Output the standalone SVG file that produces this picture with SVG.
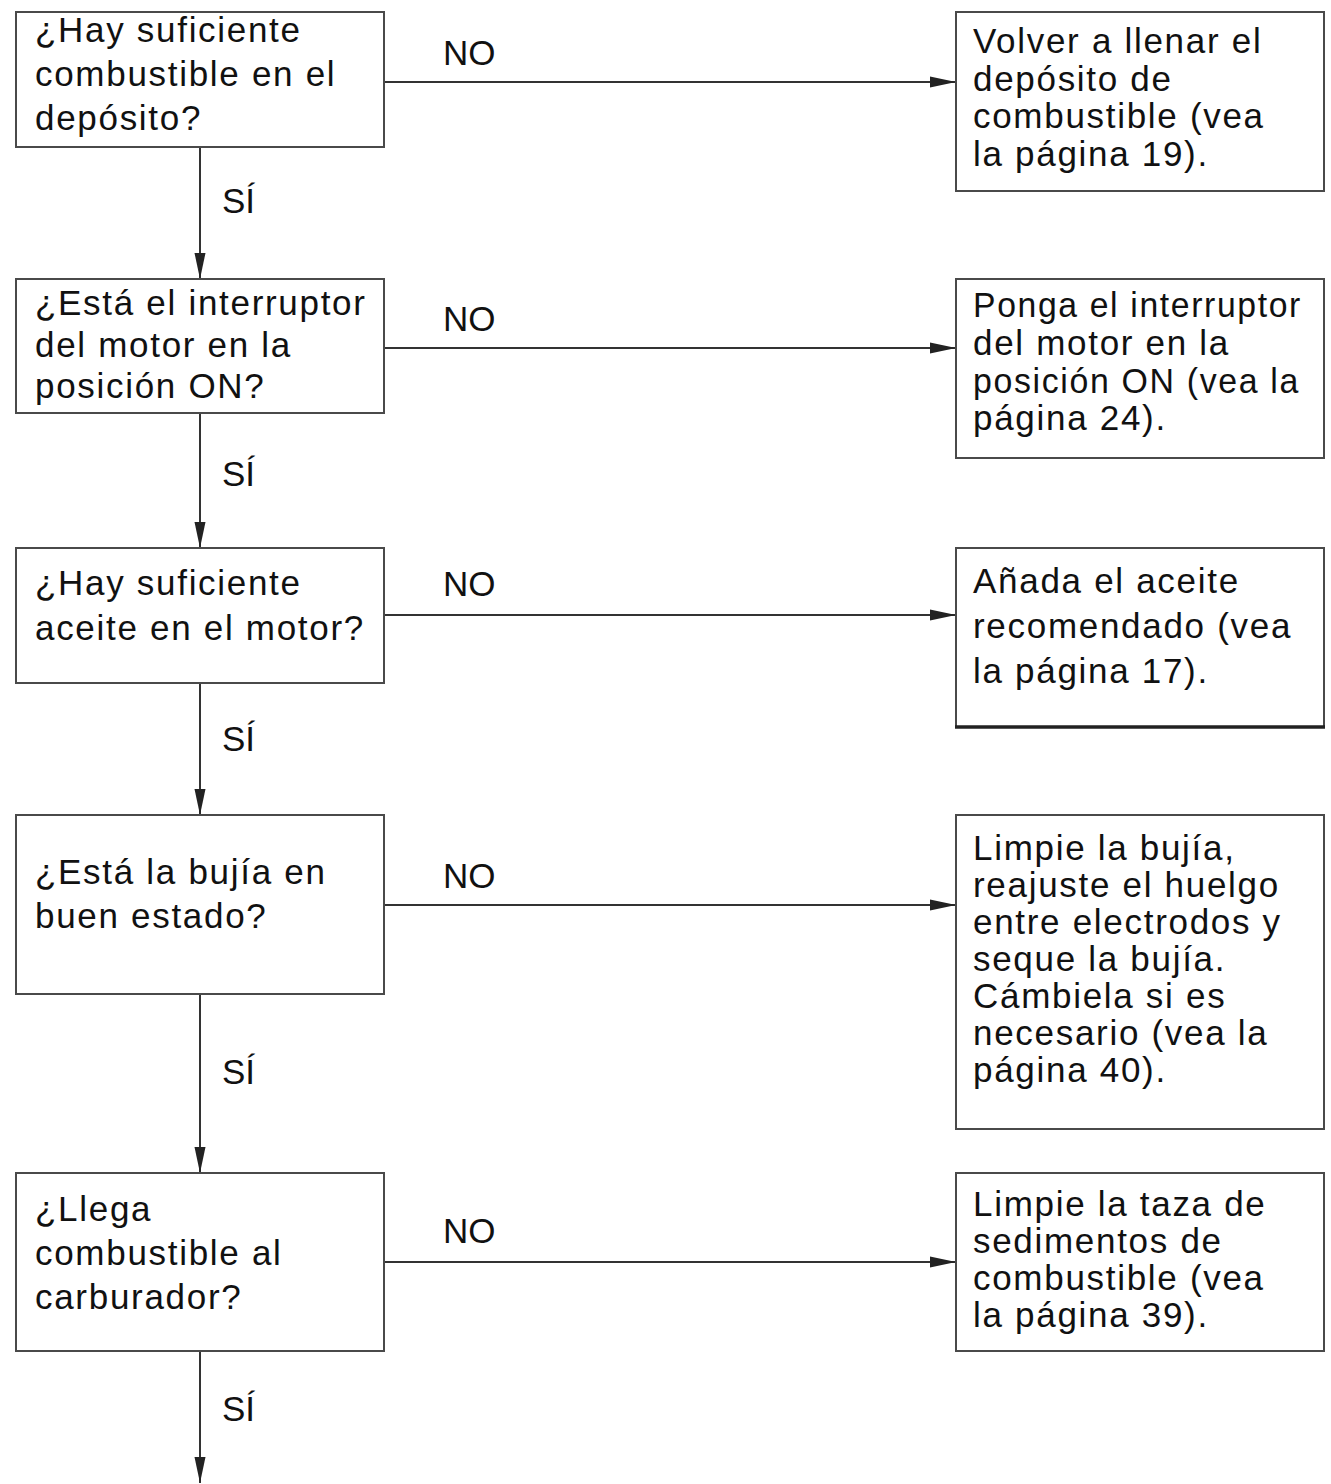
<svg xmlns="http://www.w3.org/2000/svg" width="1331" height="1484" viewBox="0 0 1331 1484">
<style>
.box{fill:#fff;stroke:#4a4a4a;stroke-width:2}
.t{font-family:"Liberation Sans",Arial,sans-serif;font-size:35px;fill:#111;letter-spacing:1.7px}
.lbl{font-family:"Liberation Sans",Arial,sans-serif;font-size:35px;fill:#111}
.conn{stroke:#333;stroke-width:2;fill:none;marker-end:url(#ah)}
</style>
<defs>
<marker id="ah" markerUnits="userSpaceOnUse" markerWidth="27" markerHeight="12" refX="26" refY="6" orient="auto">
<path d="M0,0.5 L26,6 L0,11.5 z" fill="#222"/>
</marker>
</defs>
<rect width="1331" height="1484" fill="#fff"/>
<g id="connectors">
<line class="conn" x1="384" y1="82" x2="956" y2="82"/>
<line class="conn" x1="384" y1="348" x2="956" y2="348"/>
<line class="conn" x1="384" y1="615" x2="956" y2="615"/>
<line class="conn" x1="384" y1="905" x2="956" y2="905"/>
<line class="conn" x1="384" y1="1262" x2="956" y2="1262"/>
<line class="conn" x1="200" y1="147" x2="200" y2="279"/>
<line class="conn" x1="200" y1="413" x2="200" y2="548"/>
<line class="conn" x1="200" y1="683" x2="200" y2="815"/>
<line class="conn" x1="200" y1="994" x2="200" y2="1173"/>
<line class="conn" x1="200" y1="1351" x2="200" y2="1483"/>
<text class="lbl" x="443" y="65">NO</text>
<text class="lbl" x="443" y="331">NO</text>
<text class="lbl" x="443" y="596">NO</text>
<text class="lbl" x="443" y="888">NO</text>
<text class="lbl" x="443" y="1243">NO</text>
<text class="lbl" x="222" y="213">SÍ</text>
<text class="lbl" x="222" y="486">SÍ</text>
<text class="lbl" x="222" y="751">SÍ</text>
<text class="lbl" x="222" y="1084">SÍ</text>
<text class="lbl" x="222" y="1421">SÍ</text>
</g>
<g id="q1">
<rect class="box" x="16" y="12" width="368" height="135"/>
<text class="t" x="35" y="42">¿Hay suficiente</text>
<text class="t" x="35" y="86">combustible en el</text>
<text class="t" x="35" y="130">depósito?</text>
</g>
<g id="q2">
<rect class="box" x="16" y="279" width="368" height="134"/>
<text class="t" x="35" y="315">¿Está el interruptor</text>
<text class="t" x="35" y="357">del motor en la</text>
<text class="t" x="35" y="398">posición ON?</text>
</g>
<g id="q3">
<rect class="box" x="16" y="548" width="368" height="135"/>
<text class="t" x="35" y="595">¿Hay suficiente</text>
<text class="t" x="35" y="640">aceite en el motor?</text>
</g>
<g id="q4">
<rect class="box" x="16" y="815" width="368" height="179"/>
<text class="t" x="35" y="884">¿Está la bujía en</text>
<text class="t" x="35" y="928">buen estado?</text>
</g>
<g id="q5">
<rect class="box" x="16" y="1173" width="368" height="178"/>
<text class="t" x="35" y="1221">¿Llega</text>
<text class="t" x="35" y="1265">combustible al</text>
<text class="t" x="35" y="1309">carburador?</text>
</g>
<g id="a1">
<rect class="box" x="956" y="12" width="368" height="179"/>
<text class="t" x="973" y="53">Volver a llenar el</text>
<text class="t" x="973" y="91">depósito de</text>
<text class="t" x="973" y="128">combustible (vea</text>
<text class="t" x="973" y="166">la página 19).</text>
</g>
<g id="a2">
<rect class="box" x="956" y="279" width="368" height="179"/>
<text class="t" x="973" y="317" textLength="329" lengthAdjust="spacingAndGlyphs">Ponga el interruptor</text>
<text class="t" x="973" y="355">del motor en la</text>
<text class="t" x="973" y="393" textLength="327" lengthAdjust="spacingAndGlyphs">posición ON (vea la</text>
<text class="t" x="973" y="430">página 24).</text>
</g>
<g id="a3">
<rect class="box" x="956" y="548" width="368" height="179"/>
<line x1="955" y1="727" x2="1325" y2="727" stroke="#222" stroke-width="3.5"/>
<text class="t" x="973" y="593">Añada el aceite</text>
<text class="t" x="973" y="638">recomendado (vea</text>
<text class="t" x="973" y="683">la página 17).</text>
</g>
<g id="a4">
<rect class="box" x="956" y="815" width="368" height="314"/>
<text class="t" x="973" y="860">Limpie la bujía,</text>
<text class="t" x="973" y="897">reajuste el huelgo</text>
<text class="t" x="973" y="934">entre electrodos y</text>
<text class="t" x="973" y="971">seque la bujía.</text>
<text class="t" x="973" y="1008">Cámbiela si es</text>
<text class="t" x="973" y="1045">necesario (vea la</text>
<text class="t" x="973" y="1082">página 40).</text>
</g>
<g id="a5">
<rect class="box" x="956" y="1173" width="368" height="178"/>
<text class="t" x="973" y="1216">Limpie la taza de</text>
<text class="t" x="973" y="1253">sedimentos de</text>
<text class="t" x="973" y="1290">combustible (vea</text>
<text class="t" x="973" y="1327">la página 39).</text>
</g>
</svg>
